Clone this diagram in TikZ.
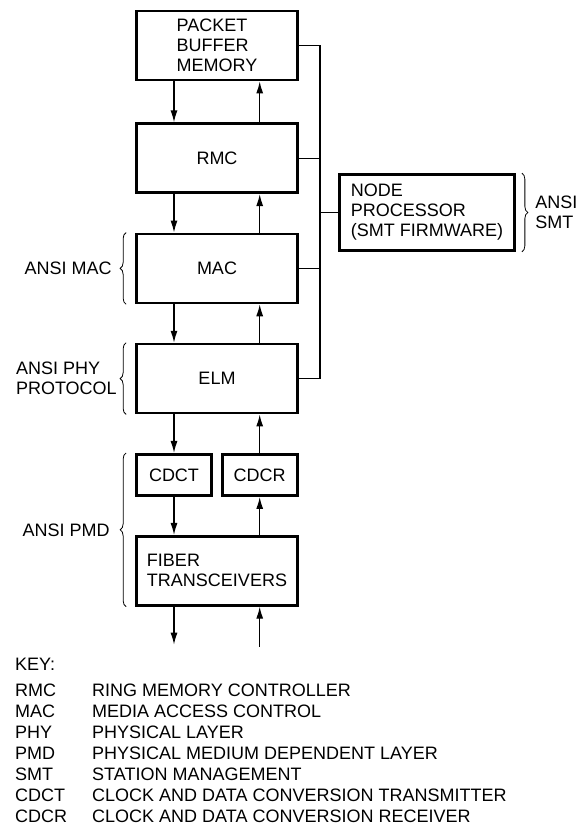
\documentclass[tikz,border=0pt]{standalone}
\usepackage{fontspec}
\setmainfont{Liberation Sans}
\usetikzlibrary{arrows.meta, positioning, decorations.pathreplacing}
\tikzset{
  box/.style={
    rectangle, draw, line width=2.7pt, align=left,
    minimum width=161pt, minimum height=69pt,
    font=\fontsize{18}{20}\selectfont, inner sep=4pt
  },
  smallbox/.style={box, minimum width=75pt, minimum height=41.3pt},
  arrow/.style={-{Latex[length=12pt, width=7pt]}, line width=1.3pt},
  busline/.style={line width=1.2pt},
  brace/.style={decorate, decoration={brace, amplitude=6pt}, line width=0.8pt},
  layerlabel/.style={font=\fontsize{18}{20}\selectfont, inner sep=0pt, align=left},
}

\begin{document}
\begin{tikzpicture}[x=1pt, y=-1pt, node distance=38.5pt]
\useasboundingbox (0,0) rectangle (587,827);

%% ---- MAIN STACK ----
\node[box] (pbm) at (217,45.5) {PACKET\\BUFFER\\MEMORY};
\node[box, below=41pt of pbm] (rmc) {RMC};
\node[box, below=of rmc] (mac) {MAC};
\node[box, below=of mac] (elm) {ELM};
\node[smallbox, below=of elm.south west, anchor=north west] (cdct) {CDCT};
\node[smallbox, right=8pt of cdct] (cdcr) {CDCR};
\node[box, below=38pt of cdct.south west, anchor=north west] (fiber) {FIBER\\TRANSCEIVERS};

%% ---- NODE PROCESSOR ----
\node[box, minimum width=175pt, minimum height=76pt] (np) at (427,212.5)
  {NODE\\PROCESSOR\\(SMT FIRMWARE)};

%% ---- DATA PATH ----
\draw[arrow] (pbm.south -| cdct) -- (rmc.north -| cdct);
\draw[arrow] (rmc.north -| cdcr) -- (pbm.south -| cdcr);
\draw[arrow] (rmc.south -| cdct) -- (mac.north -| cdct);
\draw[arrow] (mac.north -| cdcr) -- (rmc.south -| cdcr);
\draw[arrow] (mac.south -| cdct) -- (elm.north -| cdct);
\draw[arrow] (elm.north -| cdcr) -- (mac.south -| cdcr);
\draw[arrow] (elm.south -| cdct) -- (cdct.north);
\draw[arrow] (cdcr.north) -- (elm.south -| cdcr);
\draw[arrow] (cdct.south) -- (fiber.north -| cdct);
\draw[arrow] (fiber.north -| cdcr) -- (cdcr.south);

\coordinate (txout) at ([yshift=-38pt]fiber.south);
\coordinate (rxin)  at ([yshift=-40pt]fiber.south);
\draw[arrow] (fiber.south -| cdct) -- (txout -| cdct);
\draw[arrow] (rxin -| cdcr) -- (fiber.south -| cdcr);

%% ---- PROCESSOR BUS ----
\coordinate (bus) at (320,0);
\draw[busline] (pbm.east) -- (bus |- pbm.east) -- (bus |- elm.east) -- (elm.east);
\draw[busline] (rmc.east) -- (bus |- rmc.east);
\draw[busline] (mac.east) -- (bus |- mac.east);
\draw[busline] (bus |- np.west) -- (np.west);

%% ---- STANDARDS BRACES ----
\draw[brace] ([xshift=-9pt]mac.south west) -- ([xshift=-9pt]mac.north west)
  node[layerlabel, midway, left=14pt] (ansimac) {ANSI MAC};
\draw[brace] ([xshift=-9pt]elm.south west) -- ([xshift=-9pt]elm.north west)
  node[layerlabel, midway, left=9pt] (ansiphy) {ANSI PHY\\PROTOCOL};
\draw[brace] ([xshift=-9pt]fiber.south west) -- ([xshift=-9pt]cdct.north west)
  node[layerlabel, midway, left=16pt] (ansipmd) {ANSI PMD};
\draw[brace] ([xshift=6pt]np.north east) -- ([xshift=6pt]np.south east)
  node[layerlabel, midway, right=13pt] (ansismt) {ANSI\\SMT};

%% ---- KEY ----
\node[layerlabel, anchor=west] (keyhead) at (15,664) {KEY:};
\node[layerlabel, anchor=north west] (keytab) at (15,682) {%
  \fontsize{18}{21}\selectfont
  \begin{tabular}{@{}p{77pt}@{}l@{}}
  RMC  & RING MEMORY CONTROLLER\\
  MAC  & MEDIA ACCESS CONTROL\\
  PHY  & PHYSICAL LAYER\\
  PMD  & PHYSICAL MEDIUM DEPENDENT LAYER\\
  SMT  & STATION MANAGEMENT\\
  CDCT & CLOCK AND DATA CONVERSION TRANSMITTER\\
  CDCR & CLOCK AND DATA CONVERSION RECEIVER
  \end{tabular}};

\end{tikzpicture}
\end{document}
